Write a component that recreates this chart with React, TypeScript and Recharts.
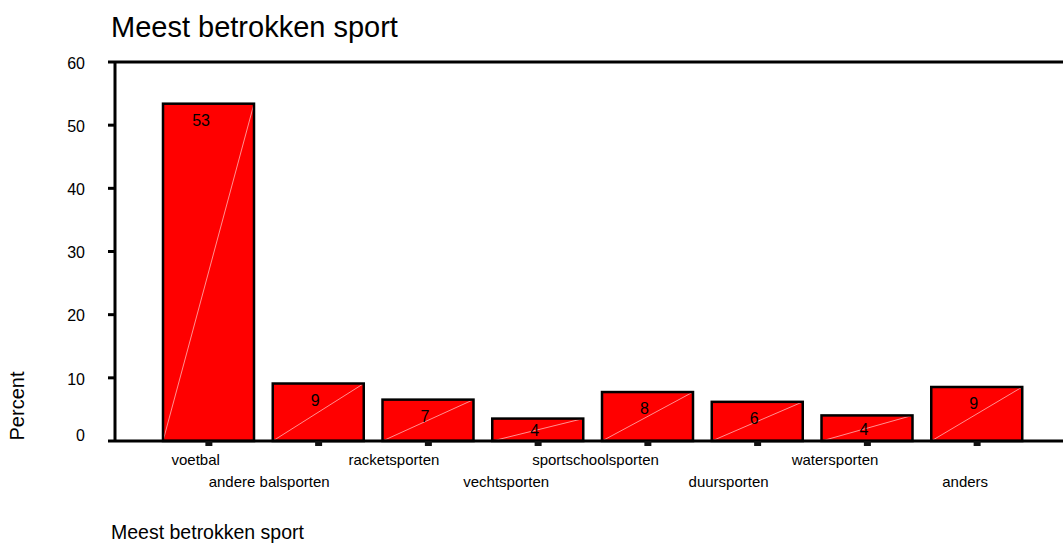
import React from 'react';
import { BarChart, Bar, XAxis, YAxis, ReferenceLine } from 'recharts';

const categories = [
  'voetbal',
  'andere balsporten',
  'racketsporten',
  'vechtsporten',
  'sportschoolsporten',
  'duursporten',
  'watersporten',
  'anders',
];
const percentValues = [53.4, 9.1, 6.55, 3.55, 7.75, 6.2, 4.05, 8.55];
const yTicks = [0, 10, 20, 30, 40, 50, 60];
const chartTitle = 'Meest betrokken sport';
const xAxisTitle = 'Meest betrokken sport';
const yAxisTitle = 'Percent';

const data = categories.map((name, i) => ({ name, value: percentValues[i] }));

const FONT = '"Liberation Sans", Arial, Helvetica, sans-serif';

const BarShape = (props: any) => {
  const { x, y, width, height, value } = props;
  const labelOffset = Math.min(16.5, height * 0.53);
  return (
    <g>
      <rect x={x} y={y} width={width} height={height} fill="#ff0000" />
      <line x1={x} y1={y + height} x2={x + width} y2={y} stroke="#ff9090" strokeWidth={1} />
      <rect x={x} y={y} width={width} height={height} fill="none" stroke="#000" strokeWidth={2.5} />
      <text
        x={x + width / 2 + 1.5}
        y={y + labelOffset}
        dy="0.36em"
        textAnchor="end"
        fontSize={16}
        fontFamily={FONT}
        fill="#000"
      >
        {Math.round(value)}
      </text>
    </g>
  );
};

const YTick = (props: any) => {
  const { x, y, payload } = props;
  const shift = payload.value === 0 ? -6 : 1;
  return (
    <text x={x} y={y + shift} dy="0.36em" textAnchor="end" fontSize={16} fontFamily={FONT} fill="#000">
      {payload.value}
    </text>
  );
};

const XTick = (props: any) => {
  const { x, y, payload, index } = props;
  const row = index % 2 === 0 ? 17 : 39;
  return (
    <text x={x + 11} y={y + row} textAnchor="end" fontSize={15} fontFamily={FONT} fill="#000">
      {payload.value}
    </text>
  );
};

export default function App() {
  return (
    <div style={{ position: 'absolute', left: 0, top: 0, width: 1063, height: 543, background: '#fff' }}>
      <BarChart
        width={1063}
        height={543}
        data={data}
        margin={{ top: 62, right: 0, bottom: 0, left: 0 }}
        barCategoryGap={0}
      >
        <ReferenceLine y={60} stroke="#000" strokeWidth={3} ifOverflow="extendDomain" />
        <XAxis
          dataKey="name"
          height={102}
          interval={0}
          padding={{ left: 39, right: 31 }}
          axisLine={{ stroke: '#000', strokeWidth: 3 }}
          tickLine={{ stroke: '#111', strokeWidth: 7 }}
          tickSize={5}
          tickMargin={2}
          tick={<XTick />}
        />
        <YAxis
          width={115}
          domain={[0, 60]}
          ticks={yTicks}
          interval={0}
          axisLine={{ stroke: '#000', strokeWidth: 3 }}
          tickLine={{ stroke: '#000', strokeWidth: 3 }}
          tickSize={7}
          tickMargin={23}
          tick={<YTick />}
        />
        <Bar dataKey="value" barSize={91} shape={<BarShape />} isAnimationActive={false} />
      </BarChart>
      <svg
        width={1063}
        height={543}
        style={{ position: 'absolute', left: 0, top: 0, pointerEvents: 'none' }}
      >
        <text x={111} y={37} fontSize={29} fontFamily={FONT} fill="#000">
          {chartTitle}
        </text>
        <text x={111} y={539} fontSize={19.5} fontFamily={FONT} fill="#000">
          {xAxisTitle}
        </text>
        <text
          x={24}
          y={406}
          fontSize={20}
          fontFamily={FONT}
          fill="#000"
          textAnchor="middle"
          transform="rotate(-90, 24, 406)"
        >
          {yAxisTitle}
        </text>
      </svg>
    </div>
  );
}
